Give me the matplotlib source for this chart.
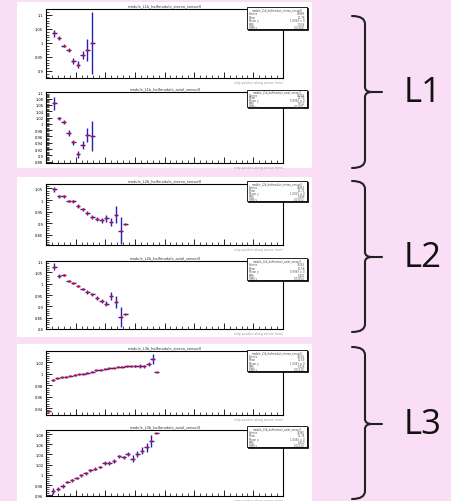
import matplotlib
matplotlib.use("Agg")
import matplotlib.pyplot as plt
from matplotlib.patches import Rectangle, PathPatch
from matplotlib.path import Path
from matplotlib.transforms import Affine2D
from matplotlib.ticker import AutoMinorLocator, NullFormatter, MultipleLocator

# ---------------- data ----------------
titles = ["module_L1b_halfmodule_stereo_sensor0", "module_L1b_halfmodule_axial_sensor0",
          "module_L2b_halfmodule_stereo_sensor0", "module_L2b_halfmodule_axial_sensor0",
          "module_L3b_halfmodule_stereo_sensor0", "module_L3b_halfmodule_axial_sensor0"]
group_labels = ["L1", "L2", "L3"]

l1s_x = [1.4, 2.2, 3.0, 3.8, 4.6, 5.4, 6.2, 7.0, 7.8]
l1s_y = [1.034, 1.017, 0.990, 0.975, 0.935, 0.923, 0.957, 0.975, 1.000]
l1s_e = [0.012, 0.006, 0.006, 0.007, 0.010, 0.012, 0.014, 0.038, 0.110]

l1a_x = [1.4, 2.2, 3.0, 3.8, 4.6, 5.4, 6.2, 7.0, 7.8]
l1a_y = [1.065, 1.018, 1.006, 0.971, 0.941, 0.903, 0.933, 0.964, 0.962]
l1a_e = [0.021, 0.005, 0.005, 0.008, 0.008, 0.011, 0.013, 0.023, 0.047]

l2s_x = [1.4, 2.2, 3.0, 3.8, 4.6, 5.4, 6.2, 7.0, 7.8, 8.6, 9.4, 10.2, 11.0, 11.8, 12.6, 13.4]
l2s_y = [1.047, 1.017, 1.016, 0.997, 0.994, 0.974, 0.960, 0.944, 0.926, 0.919, 0.914,
         0.921, 0.907, 0.937, 0.869, 0.897]
l2s_e = [0.011, 0.006, 0.006, 0.004, 0.006, 0.007, 0.007, 0.009, 0.009, 0.009, 0.011,
         0.014, 0.017, 0.037, 0.059, 0.002]

l2a_x = [1.4, 2.2, 3.0, 3.8, 4.6, 5.4, 6.2, 7.0, 7.8, 8.6, 9.4, 10.2, 11.0, 11.8, 12.6, 13.4]
l2a_y = [1.074, 1.034, 1.038, 1.012, 1.003, 0.991, 0.976, 0.963, 0.953, 0.938, 0.924,
         0.912, 0.944, 0.919, 0.853, 0.865]
l2a_e = [0.015, 0.009, 0.006, 0.004, 0.004, 0.004, 0.006, 0.007, 0.007, 0.009, 0.010,
         0.012, 0.018, 0.026, 0.044, 0.003]

l3s_x = [0.4, 1.2, 1.9, 2.7, 3.4, 4.1, 4.9, 5.6, 6.3, 7.0, 7.8, 8.5, 9.2, 10.0, 10.7,
         11.4, 12.2, 12.9, 13.6, 14.3, 15.1, 15.8, 16.5, 17.3, 18.0, 18.7]
l3s_y = [0.935, 0.989, 0.992, 0.994, 0.995, 0.9965, 0.998, 0.9995, 1.000, 1.002, 1.004,
         1.006, 1.0075, 1.009, 1.010, 1.011, 1.0125, 1.0125, 1.013, 1.013, 1.0135,
         1.014, 1.013, 1.0176, 1.0265, 1.0035]
l3s_e = [0.001, 0.002, 0.0015, 0.0012, 0.001, 0.001, 0.001, 0.001, 0.001, 0.001, 0.001,
         0.001, 0.001, 0.001, 0.001, 0.001, 0.001, 0.001, 0.0012, 0.0015, 0.002,
         0.003, 0.003, 0.004, 0.009, 0.0005]

l3a_x = [1.2, 2.0, 2.8, 3.6, 4.4, 5.2, 5.9, 6.7, 7.5, 8.3, 9.1, 9.9, 10.7, 11.5, 12.3,
         13.1, 13.8, 14.6, 15.4, 16.2, 17.0, 17.8, 18.6]
l3a_y = [0.9685, 0.9731, 0.9784, 0.9862, 0.9895, 0.9948, 0.9993, 1.0033, 1.0092, 1.0125,
         1.0157, 1.0230, 1.0230, 1.0275, 1.0361, 1.0341, 1.0407, 1.0321, 1.0407, 1.0472,
         1.0538, 1.0669, 1.0820]
l3a_e = [0.0066, 0.0039, 0.0033, 0.0026, 0.0026, 0.0020, 0.0026, 0.0026, 0.0026, 0.0026,
         0.0026, 0.0033, 0.0039, 0.0033, 0.0033, 0.0033, 0.0039, 0.0059, 0.0052, 0.0066,
         0.0092, 0.0118, 0.0005]

yticks_list = [[0.9, 0.95, 1.0, 1.05, 1.1],
               [0.88, 0.9, 0.92, 0.94, 0.96, 0.98, 1.0, 1.02, 1.04, 1.06, 1.08, 1.1],
               [0.85, 0.9, 0.95, 1.0, 1.05],
               [0.8, 0.85, 0.9, 0.95, 1.0, 1.05, 1.1],
               [0.94, 0.96, 0.98, 1.0, 1.02],
               [0.96, 0.98, 1.0, 1.02, 1.04, 1.06, 1.08]]
ylims = [(0.875, 1.121), (0.876, 1.101), (0.807, 1.069), (0.801, 1.100),
         (0.928, 1.040), (0.9587, 1.0879)]

stats_entries = ["83968", "93088", "78854", "79264", "71502", "75960"]
stats_mean = ["11.78", "11.79", "11.72", "11.58", "11.69", "11.74"]
stats_meany = ["1.0064 \u00b1 0", "0.9983 \u00b1 0", "1.0001 \u00b1 0", "0.9993 \u00b1 0",
               "1.0043 \u00b1 0", "1.0083 \u00b1 0"]
stats_rms = ["5.554", "5.612", "5.498", "5.401", "5.726", "5.810"]
stats_rmsy = ["0.02168", "0.02341", "0.03012", "0.03154", "0.01120", "0.02210"]

series = [(l1s_x, l1s_y, l1s_e), (l1a_x, l1a_y, l1a_e), (l2s_x, l2s_y, l2s_e),
          (l2a_x, l2a_y, l2a_e), (l3s_x, l3s_y, l3s_e), (l3a_x, l3a_y, l3a_e)]

# ---------------- layout (pixels) ----------------
W, H = 452, 502
fig = plt.figure(figsize=(W / 100, H / 100), dpi=100)
fig.patch.set_facecolor("#f9def6")

def frect(x0, y0, x1, y1):
    return [x0 / W, 1 - y1 / H, (x1 - x0) / W, (y1 - y0) / H]

panels = [(17, 3, 312, 169), (17, 178, 312, 338), (17, 345, 312, 502)]
for (x0, y0, x1, y1) in panels:
    r = frect(x0, y0, x1, y1)
    fig.add_artist(Rectangle((r[0], r[1]), r[2], r[3], transform=fig.transFigure,
                             facecolor="white", edgecolor="none", zorder=0))

axes_px = [(46, 10, 283, 79), (46, 93, 283, 164), (46, 185, 283, 246),
           (46, 262, 283, 330), (46, 352, 283, 416), (46, 431, 283, 497)]
box_px = [(247, 8, 307, 30), (247, 91, 307, 108), (247, 182, 307, 202),
          (247, 259, 307, 281), (247, 351, 307, 372), (247, 427, 307, 448)]

def fmt(v):
    s = ("%.2f" % v).rstrip("0").rstrip(".")
    return s

for i, (px, (x, y, e)) in enumerate(zip(axes_px, series)):
    ax = fig.add_axes(frect(*px))
    ax.set_facecolor("white")
    ax.errorbar(x, y, yerr=e, xerr=0.39, fmt="none", ecolor="#2323b8",
                elinewidth=1.0, capsize=0, zorder=3)
    ax.plot(x, y, ls="none", marker="s", ms=1.4, mew=0, color="red", zorder=4)
    ax.set_xlim(0, 40)
    ax.set_ylim(*ylims[i])
    ax.set_yticks(yticks_list[i])
    ax.set_yticklabels([fmt(v) for v in yticks_list[i]])
    ax.xaxis.set_major_locator(MultipleLocator(5))
    ax.xaxis.set_minor_locator(MultipleLocator(1))
    ax.xaxis.set_major_formatter(NullFormatter())
    ax.yaxis.set_minor_locator(AutoMinorLocator(5))
    ax.tick_params(axis="both", which="major", direction="in", length=4, width=0.6,
                   labelsize=2.6, pad=2, colors="black")
    ax.tick_params(axis="both", which="minor", direction="in", length=2, width=0.5)
    ax.tick_params(axis="y", which="both", right=False)
    ax.tick_params(axis="x", which="both", top=False)
    for sp in ax.spines.values():
        sp.set_linewidth(0.8)
    # title
    fig.text(165 / W, 1 - (px[1] - 4) / H, titles[i], ha="center", va="center",
             fontsize=2.6, color="#333333")
    # x-axis title
    fig.text(px[2] / W, 1 - (px[3] + 4) / H, "strip position along sensor (mm)",
             ha="right", va="center", fontsize=2.2, color="#9a9a9a")
    # stat box
    bx0, by0, bx1, by1 = box_px[i]
    sr = frect(bx0 + 1, by0 + 1, bx1 + 1, by1 + 1)
    fig.add_artist(Rectangle((sr[0], sr[1]), sr[2], sr[3], transform=fig.transFigure,
                             facecolor="black", edgecolor="black", lw=0.5, zorder=5))
    br = frect(bx0, by0, bx1, by1)
    fig.add_artist(Rectangle((br[0], br[1]), br[2], br[3], transform=fig.transFigure,
                             facecolor="white", edgecolor="black", lw=0.6, zorder=6))
    rows = [("Entries", stats_entries[i]), ("Mean", stats_mean[i]),
            ("Mean y", stats_meany[i]), ("RMS", stats_rms[i]), ("RMS y", stats_rmsy[i])]
    bh = by1 - by0
    fig.text((bx0 + bx1) / 2 / W, 1 - (by0 + bh * 0.1) / H, titles[i], ha="center",
             va="center", fontsize=1.8, color="#444444", zorder=7)
    for k, (lab, val) in enumerate(rows):
        yy = by0 + bh * (0.28 + 0.16 * k)
        fig.text((bx0 + 2) / W, 1 - yy / H, lab, ha="left", va="center",
                 fontsize=1.9, color="#555555", zorder=7)
        fig.text((bx1 - 2) / W, 1 - yy / H, val, ha="right", va="center",
                 fontsize=1.9, color="#555555", zorder=7)

# ---------------- braces ----------------
tr = Affine2D().scale(1 / W, -1 / H).translate(0, 1) + fig.transFigure
braces = [(17, 93, 169), (182, 258, 333), (348, 425, 500)]
for (top, mid, bot), lab in zip(braces, group_labels):
    xl, xv, xt = 352, 365, 382
    verts = [(xl, top), (xv, top), (xv, top + 8),
             (xv, mid - 5),
             (xv, mid), (xv + 7, mid),
             (xt, mid),
             (xv + 7, mid),
             (xv, mid), (xv, mid + 5),
             (xv, bot - 8),
             (xv, bot), (xl, bot)]
    codes = [Path.MOVETO, Path.CURVE3, Path.CURVE3, Path.LINETO,
             Path.CURVE3, Path.CURVE3, Path.LINETO,
             Path.MOVETO, Path.CURVE3, Path.CURVE3, Path.LINETO,
             Path.CURVE3, Path.CURVE3]
    fig.add_artist(PathPatch(Path(verts, codes), transform=tr, facecolor="none",
                             edgecolor="#222222", lw=1.5, capstyle="round"))
    fig.text(423 / W, 1 - mid / H, lab, ha="center", va="center", fontsize=25,
             family=["Open Sans", "DejaVu Sans"], color="#111111")

fig.savefig("out.png", dpi=100, facecolor=fig.get_facecolor())
